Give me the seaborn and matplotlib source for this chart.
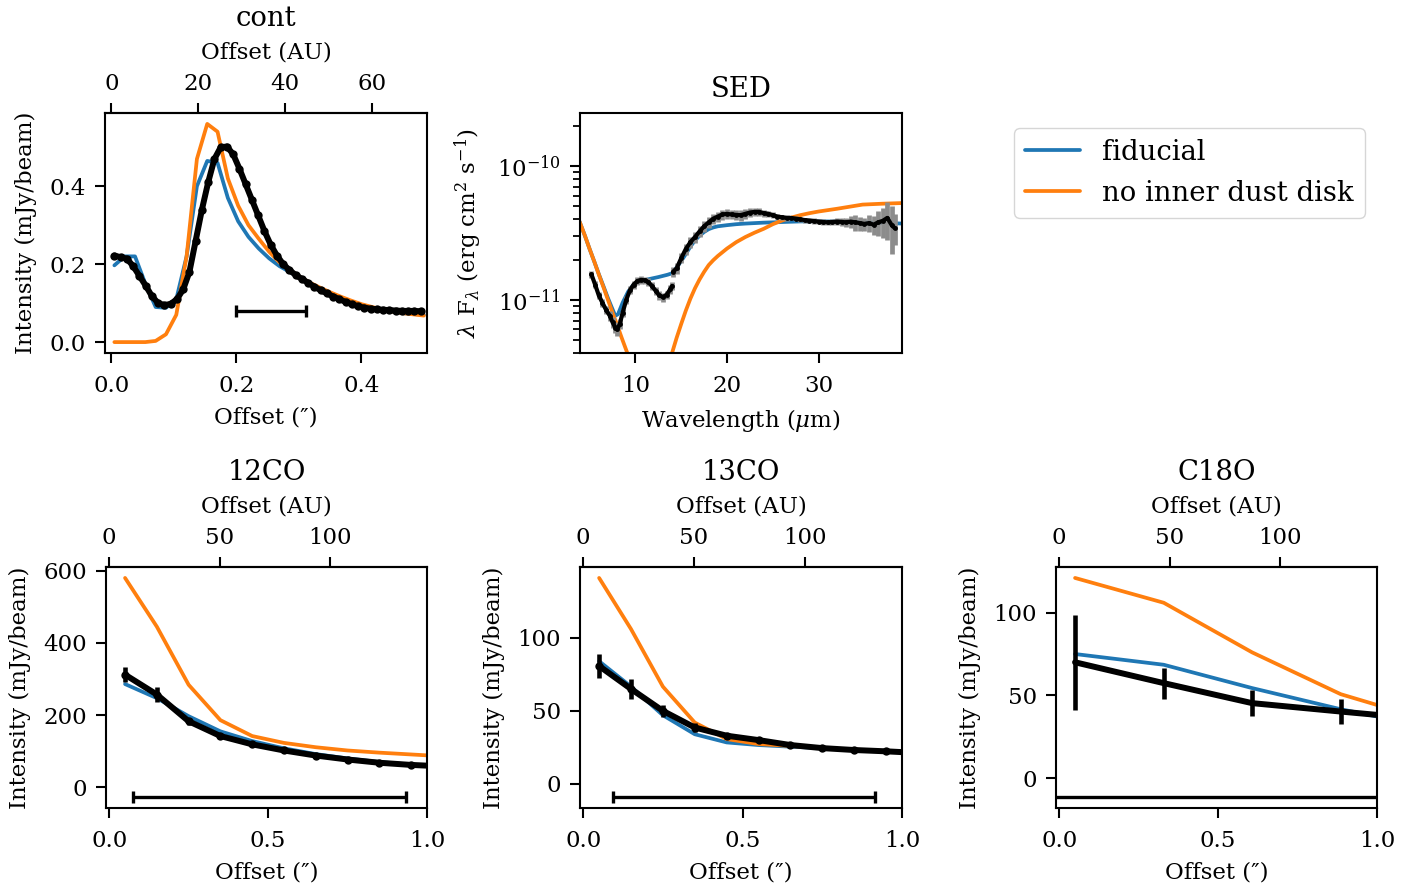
import numpy as np
import pandas as pd
import matplotlib
matplotlib.use("Agg")
import matplotlib.pyplot as plt
from matplotlib.ticker import MultipleLocator, FixedLocator
from matplotlib.lines import Line2D
import seaborn as sns

# ---------------- data ----------------
AU_PER_ARCSEC = 144.0

# continuum radial profile (observed)
cont_obs_x = [0.005, 0.015, 0.025, 0.035, 0.045, 0.055, 0.065, 0.075, 0.085, 0.095,
              0.105, 0.115, 0.125, 0.135, 0.145, 0.155, 0.165, 0.175, 0.185, 0.195,
              0.205, 0.215, 0.225, 0.235, 0.245, 0.255, 0.265, 0.275, 0.285, 0.295,
              0.305, 0.315, 0.325, 0.335, 0.345, 0.355, 0.365, 0.375, 0.385, 0.395,
              0.405, 0.415, 0.425, 0.435, 0.445, 0.455, 0.465, 0.475, 0.485, 0.495]
cont_obs_y = [0.222, 0.218, 0.214, 0.195, 0.170, 0.145, 0.118, 0.100, 0.095, 0.098,
              0.110, 0.135, 0.180, 0.260, 0.340, 0.410, 0.470, 0.500, 0.502, 0.482,
              0.445, 0.405, 0.365, 0.325, 0.285, 0.250, 0.222, 0.200, 0.185, 0.172,
              0.162, 0.152, 0.142, 0.133, 0.125, 0.117, 0.110, 0.103, 0.097, 0.092,
              0.088, 0.086, 0.084, 0.083, 0.082, 0.081, 0.080, 0.080, 0.080, 0.079]
cont_obs_err = [0.006] * 50

cont_mod_x = [0.005, 0.0215, 0.038, 0.0545, 0.071, 0.0875, 0.104, 0.1205, 0.137, 0.1535,
              0.17, 0.1865, 0.203, 0.2195, 0.236, 0.2525, 0.269, 0.2855, 0.302, 0.3185,
              0.335, 0.3515, 0.368, 0.3845, 0.401, 0.4175, 0.434, 0.4505, 0.467, 0.4835, 0.5]
cont_fid_y = [0.197, 0.220, 0.220, 0.150, 0.090, 0.088, 0.110, 0.220, 0.400, 0.465,
              0.460, 0.370, 0.310, 0.270, 0.240, 0.215, 0.195, 0.180, 0.164, 0.150,
              0.137, 0.125, 0.114, 0.104, 0.095, 0.088, 0.082, 0.077, 0.074, 0.072, 0.070]
cont_noin_y = [0.0, 0.0, 0.0, 0.0, 0.003, 0.020, 0.070, 0.220, 0.470, 0.560,
               0.540, 0.420, 0.350, 0.300, 0.265, 0.232, 0.205, 0.185, 0.167, 0.152,
               0.139, 0.127, 0.116, 0.106, 0.097, 0.090, 0.083, 0.078, 0.074, 0.071, 0.068]
cont_beam = (0.256, 0.08, 0.056)   # centre, height, half-width

# SED (values in units of 1e-11 erg cm^2 s^-1)
sed_obs1_wl = [5.2, 5.6, 6.0, 6.4, 6.8, 7.2, 7.5, 7.8, 8.0, 8.3, 8.6, 9.0, 9.4, 9.8,
               10.2, 10.6, 11.0, 11.4, 11.8, 12.2, 12.6, 13.0, 13.4, 13.8, 14.0]
sed_obs1_f = [1.55, 1.30, 1.08, 0.95, 0.84, 0.76, 0.68, 0.62, 0.60, 0.66, 0.80, 1.00,
              1.18, 1.30, 1.38, 1.41, 1.40, 1.36, 1.27, 1.17, 1.08, 1.05, 1.09, 1.20, 1.27]
sed_obs1_err = [0.09, 0.08, 0.07, 0.06, 0.06, 0.06, 0.06, 0.06, 0.06, 0.06, 0.06, 0.07,
                0.08, 0.09, 0.09, 0.09, 0.09, 0.09, 0.09, 0.08, 0.08, 0.08, 0.08, 0.09, 0.09]
sed_obs2_wl = [14.1, 14.5, 15.0, 15.5, 16.0, 16.5, 17.0, 17.5, 18.0, 18.5, 19.0, 19.5,
               20.0, 20.5, 21.0, 21.5, 22.0, 22.5, 23.0, 23.5, 24.0, 24.5, 25.0, 25.5,
               26.0, 26.5, 27.0, 27.5, 28.0, 28.5, 29.0, 29.5, 30.0, 30.5, 31.0, 31.5,
               32.0, 32.5, 33.0, 33.5, 34.0, 34.5, 35.0, 35.5, 36.0, 36.5, 37.0, 37.5,
               38.0, 38.3]
sed_obs2_f = [1.62, 1.72, 2.05, 2.40, 2.70, 2.95, 3.25, 3.55, 3.80, 4.05, 4.20, 4.35,
              4.40, 4.35, 4.32, 4.30, 4.40, 4.50, 4.55, 4.55, 4.45, 4.40, 4.30, 4.20,
              4.15, 4.10, 4.10, 4.05, 4.00, 3.95, 3.92, 3.88, 3.85, 3.82, 3.80, 3.82,
              3.85, 3.83, 3.80, 3.85, 3.80, 3.75, 3.70, 3.75, 3.65, 3.80, 3.90, 4.10,
              3.60, 3.45]
sed_obs2_err = [0.14, 0.15, 0.18, 0.22, 0.25, 0.28, 0.30, 0.32, 0.34, 0.36, 0.36, 0.38,
                0.36, 0.34, 0.34, 0.40, 0.35, 0.34, 0.34, 0.30, 0.28, 0.25, 0.22, 0.20,
                0.18, 0.18, 0.17, 0.17, 0.17, 0.17, 0.17, 0.18, 0.18, 0.18, 0.19, 0.20,
                0.22, 0.26, 0.30, 0.40, 0.50, 0.45, 0.40, 0.55, 0.60, 0.80, 1.00, 1.30,
                1.40, 0.90]

sed_fid_wl = [3.9, 4.5, 5.0, 5.5, 6.0, 6.5, 7.0, 7.5, 7.8, 8.1, 8.6, 9.2, 9.8, 10.5,
              11.5, 12.5, 13.5, 14.0, 14.5, 15.0, 15.5, 16.0, 16.5, 17.0, 17.5, 18.0,
              18.5, 19.0, 20.0, 21.0, 22.0, 24.0, 26.0, 28.0, 30.0, 32.0, 34.0, 36.0, 39.2]
sed_fid_f = [3.85, 3.00, 2.40, 1.94, 1.56, 1.27, 1.03, 0.85, 0.76, 0.78, 0.95, 1.15,
             1.30, 1.37, 1.43, 1.48, 1.54, 1.58, 1.75, 1.95, 2.20, 2.50, 2.78, 3.02,
             3.22, 3.38, 3.48, 3.55, 3.62, 3.68, 3.72, 3.78, 3.82, 3.86, 3.87, 3.85,
             3.82, 3.78, 3.72]
sed_noin_wl = [3.9, 4.5, 5.0, 5.5, 6.0, 6.5, 7.0, 7.5, 8.0, 8.5, 9.0, 9.5, 10.0, 11.0,
               12.0, 13.0, 13.5, 14.0, 14.5, 15.0, 15.5, 16.0, 16.5, 17.0, 17.5, 18.0,
               18.5, 19.0, 20.0, 21.0, 22.0, 23.0, 24.0, 25.0, 26.0, 27.0, 28.0, 29.0,
               30.0, 32.0, 34.8, 37.0, 39.2]
sed_noin_f = [3.85, 3.00, 2.40, 1.94, 1.55, 1.25, 1.00, 0.80, 0.65, 0.52, 0.42, 0.34,
              0.27, 0.19, 0.15, 0.20, 0.28, 0.40, 0.52, 0.66, 0.83, 1.02, 1.22, 1.42,
              1.62, 1.82, 1.98, 2.13, 2.42, 2.70, 2.95, 3.18, 3.40, 3.68, 3.92, 4.12,
              4.30, 4.45, 4.58, 4.80, 5.16, 5.24, 5.30]

# line profiles
co12_x = [0.05, 0.15, 0.25, 0.35, 0.45, 0.55, 0.65, 0.75, 0.85, 0.95, 1.05]
co12_obs = [312, 257, 183, 142, 119, 102, 88, 77, 68, 62, 58]
co12_err = [20, 22, 10, 6, 4, 4, 4, 4, 4, 4, 4]
co12_fid = [286, 247, 197, 155, 128, 108, 92, 80, 70, 63, 58]
co12_noin = [580, 445, 284, 186, 142, 123, 111, 102, 96, 91, 86]
co12_beam = (0.505, -27, 0.43)

co13_x = [0.05, 0.15, 0.25, 0.35, 0.45, 0.55, 0.65, 0.75, 0.85, 0.95, 1.05]
co13_obs = [80.7, 65.0, 50.0, 38.6, 33.0, 30.0, 26.6, 24.5, 23.2, 22.3, 21.2]
co13_err = [8.5, 7.0, 4.0, 3.0, 2.0, 2.0, 1.5, 1.5, 1.5, 1.5, 1.5]
co13_fid = [84.0, 66.6, 47.0, 34.0, 28.4, 26.6, 25.5, 24.5, 23.3, 22.3, 21.5]
co13_noin = [141.0, 106.0, 66.6, 42.0, 30.7, 27.3, 26.0, 24.5, 23.5, 22.5, 21.7]
co13_beam = (0.505, -9, 0.41)

c18o_x = [0.05, 0.329, 0.607, 0.886, 1.164]
c18o_obs = [70.0, 57.4, 45.3, 40.2, 35.3]
c18o_err = [28.6, 9.4, 8.0, 7.3, 7.0]
c18o_fid = [75.0, 68.5, 54.4, 41.6, 30.9]
c18o_noin = [121.0, 106.0, 76.0, 50.7, 34.8]
c18o_beam = (0.5, -11.5, 0.8)

titles = ["cont", "SED", "12CO", "13CO", "C18O"]
legend_labels = ["fiducial", "no inner dust disk"]
cont_au_ticks = [0, 20, 40, 60]
line_au_ticks = [0, 50, 100]

# ---------------- style ----------------
sns.set_theme(style="ticks")
plt.rcParams.update({
    "font.family": ["DejaVu Serif"],
    "mathtext.fontset": "dejavuserif",
    "font.size": 16.5,
    "axes.titlesize": 19.8,
    "axes.titlepad": 11.3,
    "axes.labelsize": 16.5,
    "axes.labelpad": 5,
    "xtick.labelsize": 16.5,
    "ytick.labelsize": 16.5,
    "axes.linewidth": 1.5,
    "axes.edgecolor": "black",
    "xtick.major.size": 7.2,
    "ytick.major.size": 7.2,
    "xtick.major.pad": 8.3,
    "ytick.major.pad": 6.5,
    "xtick.major.width": 1.5,
    "ytick.major.width": 1.5,
    "xtick.minor.size": 4.8,
    "ytick.minor.size": 4.8,
    "xtick.minor.width": 1.3,
    "ytick.minor.width": 1.3,
    "xtick.color": "black",
    "ytick.color": "black",
    "text.color": "black",
    "axes.labelcolor": "black",
})

C_FID = "#1f77b4"
C_NOIN = "#ff7f0e"
LW_MOD = 2.7
LW_OBS = 4.3
XLABEL_PAD = 7.5
YLABEL_PAD = 9
TOP_TICK_PAD = 6.0
TOP_LABEL_PAD = 10

W, H = 1422, 886
fig = plt.figure(figsize=(W / 100, H / 100), dpi=100)


def rect(l, t, r, b):
    return [l / W, 1 - b / H, (r - l) / W, (b - t) / H]


def line(ax, x, y, color, lw, **kw):
    sns.lineplot(x=x, y=y, ax=ax, color=color, lw=lw, estimator=None, sort=False,
                 legend=False, **kw)


def au_axis(ax, ticks):
    sec = ax.secondary_xaxis("top", functions=(lambda v: v * AU_PER_ARCSEC,
                                                lambda v: v / AU_PER_ARCSEC))
    sec.xaxis.set_major_locator(FixedLocator(ticks))
    sec.tick_params(axis="x", pad=TOP_TICK_PAD)
    sec.set_xlabel("Offset (AU)", labelpad=TOP_LABEL_PAD)
    return sec


def profile(ax, title, x, obs, err, fid, noin, beam, ms):
    line(ax, x, fid, C_FID, LW_MOD, zorder=2)
    line(ax, x, noin, C_NOIN, LW_MOD, zorder=2)
    ax.errorbar(x, obs, yerr=err, fmt="none", ecolor="black", elinewidth=3.3, zorder=3)
    line(ax, x, obs, "black", LW_OBS, marker="o", markersize=ms,
         markeredgewidth=0, zorder=4)
    c, yb, hw = beam
    ax.errorbar([c], [yb], xerr=[hw], fmt="none", ecolor="black", elinewidth=2.4,
                capsize=4.3, capthick=2.4, zorder=4)
    ax.set_xlim(-0.01, 1.0)
    ax.xaxis.set_major_locator(MultipleLocator(0.5))
    ax.set_xlabel("Offset (″)", labelpad=XLABEL_PAD)
    ax.set_ylabel("Intensity (mJy/beam)", labelpad=YLABEL_PAD)
    au_axis(ax, line_au_ticks)
    ax.set_title(title)


# continuum
ax = fig.add_axes(rect(105, 113, 427, 353))
line(ax, cont_mod_x, cont_fid_y, C_FID, LW_MOD, zorder=2)
line(ax, cont_mod_x, cont_noin_y, C_NOIN, LW_MOD, zorder=2)
ax.errorbar(cont_obs_x, cont_obs_y, yerr=cont_obs_err, fmt="none", ecolor="black",
            elinewidth=2.0, zorder=3)
line(ax, cont_obs_x, cont_obs_y, "black", LW_OBS, marker="o", markersize=6,
     markeredgewidth=0, zorder=4)
ax.errorbar([cont_beam[0]], [cont_beam[1]], xerr=[cont_beam[2]], fmt="none",
            ecolor="black", elinewidth=2.4, capsize=4.3, capthick=2.4, zorder=4)
ax.set_xlim(-0.01, 0.505)
ax.xaxis.set_major_locator(MultipleLocator(0.2))
ax.yaxis.set_major_locator(MultipleLocator(0.2))
ax.set_xlabel("Offset (″)", labelpad=XLABEL_PAD)
ax.set_ylabel("Intensity (mJy/beam)", labelpad=YLABEL_PAD)
au_axis(ax, cont_au_ticks)
ax.set_title(titles[0])

# SED
ax = fig.add_axes(rect(580, 113, 902, 353))
scale = 1e-11
line(ax, sed_fid_wl, [v * scale for v in sed_fid_f], C_FID, LW_MOD, zorder=2)
line(ax, sed_noin_wl, [v * scale for v in sed_noin_f], C_NOIN, LW_MOD, zorder=2)
for wl, f, e in ((sed_obs1_wl, sed_obs1_f, sed_obs1_err),
                 (sed_obs2_wl, sed_obs2_f, sed_obs2_err)):
    ax.errorbar(wl, [v * scale for v in f], yerr=[v * scale for v in e], fmt="none",
                ecolor="0.55", elinewidth=3.4, zorder=3)
    line(ax, wl, [v * scale for v in f], "black", 3.0, marker="o", markersize=3.5,
         markeredgewidth=0, zorder=4)
ax.set_yscale("log")
ax.set_xlim(3.95, 39.1)
ax.set_ylim(4e-12, 2.5e-10)
ax.xaxis.set_major_locator(MultipleLocator(10))
ax.set_xlabel(r"Wavelength ($\mu$m)", labelpad=XLABEL_PAD)
ax.set_ylabel(r"$\lambda$ F$_\lambda$ (erg cm$^2$ s$^{-1}$)", labelpad=YLABEL_PAD)
ax.set_title(titles[1])

# legend
handles = [Line2D([], [], color=C_FID, lw=LW_MOD), Line2D([], [], color=C_NOIN, lw=LW_MOD)]
fig.legend(handles, legend_labels, loc="upper left",
           bbox_to_anchor=(1014 / W, 1 - 128 / H), borderaxespad=0, fontsize=19.8,
           frameon=True, edgecolor="0.8", fancybox=True)

# line profiles
ax = fig.add_axes(rect(106, 567, 427, 808))
profile(ax, titles[2], co12_x, co12_obs, co12_err, co12_fid, co12_noin, co12_beam, 6)
ax.yaxis.set_major_locator(MultipleLocator(200))

ax = fig.add_axes(rect(580, 567, 902, 808))
profile(ax, titles[3], co13_x, co13_obs, co13_err, co13_fid, co13_noin, co13_beam, 6)
ax.yaxis.set_major_locator(MultipleLocator(50))

ax = fig.add_axes(rect(1056, 567, 1377, 808))
profile(ax, titles[4], c18o_x, c18o_obs, c18o_err, c18o_fid, c18o_noin, c18o_beam, 3)
ax.yaxis.set_major_locator(MultipleLocator(50))

fig.savefig("out.png", dpi=100)
